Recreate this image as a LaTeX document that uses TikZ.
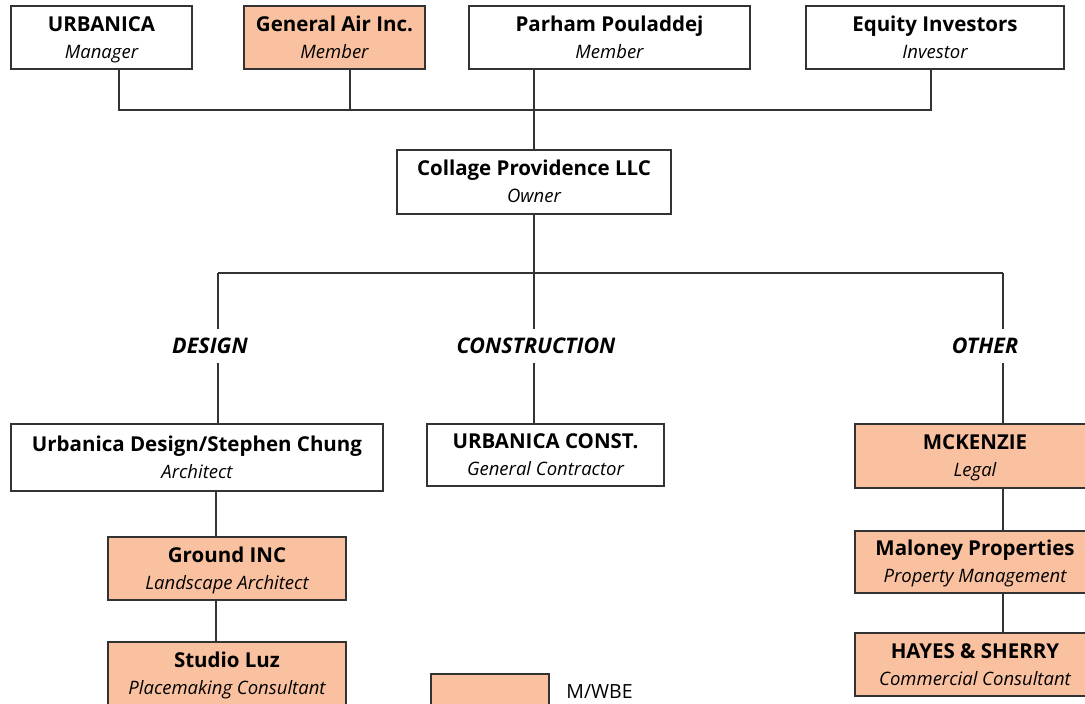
\documentclass[tikz,border=0pt]{standalone}
\usepackage{fontspec}
\setmainfont{Open Sans}
\usepackage{xcolor}

\definecolor{mwbe}{RGB}{250,193,160}
\definecolor{edge}{RGB}{51,51,51}

\newcommand{\party}[2]{{\fontsize{20.5}{27}\selectfont\bfseries\rule{0pt}{20pt}#1}\\{\fontsize{18.5}{27}\selectfont\itshape #2\rule[-6pt]{0pt}{6pt}}}

\begin{document}
\begin{tikzpicture}[x=1pt, y=-1pt, line width=1.4pt, draw=edge,
		org/.style={draw=edge, fill=white, align=center, inner sep=0pt,
			font=\fontsize{19}{27}\selectfont},
		mw/.style={org, fill=mwbe},
		branch/.style={font=\fontsize{21.5}{22}\selectfont\bfseries\itshape,
			minimum height=33pt, inner sep=0pt}]
		
		\useasboundingbox (0,0) rectangle (1085,704);
		
		% owners
		\node[org, minimum width=181pt, minimum height=63pt] (urbanica) at (101.5,37.5) {\party{URBANICA}{Manager}};
		\node[mw, minimum width=181pt, minimum height=63pt] (genair) at (334.5,37.5) {\party{General Air Inc.}{Member}};
		\node[org, minimum width=281pt, minimum height=63pt] (parham) at (609.5,37.5) {\party{Parham Pouladdej}{Member}};
		\node[org, minimum width=258pt, minimum height=63pt] (equity) at (935,37.5) {\party{Equity Investors}{Investor}};
		
		% owner entity
		\node[org, minimum width=274pt, minimum height=64pt] (collage) at (534,182) {\party{Collage Providence LLC}{Owner}};
		
		% branch labels
		\node[branch] (designlbl) at (210,346) {DESIGN};
		\node[branch] (conslbl) at (536,346) {CONSTRUCTION};
		\node[branch] (otherlbl) at (985,346) {OTHER};
		
		% design team
		\node[org, minimum width=372pt, minimum height=67pt] (urbdesign) at (197,457.5) {\party{Urbanica Design/Stephen Chung}{Architect}};
		\node[mw, minimum width=238pt, minimum height=63pt] (ground) at (227,568.5) {\party{Ground INC}{Landscape Architect}};
		\node[mw, minimum width=238pt, minimum height=63pt] (studioluz) at (227,673.5) {\party{Studio Luz}{Placemaking Consultant}};
		
		% construction team
		\node[org, minimum width=237pt, minimum height=62pt] (urbconst) at (545.5,455) {\party{URBANICA CONST.}{General Contractor}};
		
		% other team
		\node[mw, minimum width=240pt, minimum height=64pt] (mckenzie) at (975,456) {\party{MCKENZIE}{Legal}};
		\node[mw, minimum width=240pt, minimum height=62pt] (maloney) at (975,562) {\party{Maloney Properties}{Property Management}};
		\node[mw, minimum width=240pt, minimum height=63pt] (hayes) at (975,664.5) {\party{HAYES \& SHERRY}{Commercial Consultant}};
		
		% legend
		\node[mw, minimum width=118pt, minimum height=36pt] (key) at (490,692) {};
		\node[anchor=west, inner sep=0pt, font=\fontsize{19.5}{22}\selectfont] (keylbl) at ([xshift=16pt]key.east) {M/WBE};
		
		% owners to collage
		\coordinate (topbus) at (535,110);
		\coordinate (gadrop) at ([xshift=15.5pt]genair.south);
		\draw ([xshift=17.5pt]urbanica.south) |- (topbus);
		\draw ([xshift=-4pt]equity.south) |- (topbus);
		\draw (gadrop) -- (gadrop |- topbus);
		\draw (parham.south -| collage.north) -- (collage.north);
		
		% collage to branches
		\coordinate (dsn) at (218,273);
		\coordinate (cst) at (534,273);
		\coordinate (oth) at (1003,273);
		\draw (collage.south) -- (collage.south |- cst);
		\draw (dsn) -- (oth);
		\draw (dsn) -- (dsn |- designlbl.north);
		\draw (dsn |- designlbl.south) -- (dsn |- urbdesign.north);
		\draw (cst) -- (cst |- conslbl.north);
		\draw (cst |- conslbl.south) -- (cst |- urbconst.north);
		\draw (oth) -- (oth |- otherlbl.north);
		\draw (oth |- otherlbl.south) -- (oth |- mckenzie.north);
		
		% chains
		\draw ([xshift=19pt]urbdesign.south) -- ([xshift=-11pt]ground.north);
		\draw ([xshift=-11pt]ground.south) -- ([xshift=-11pt]studioluz.north);
		\draw (mckenzie.south -| oth) -- (maloney.north -| oth);
		\draw (maloney.south -| oth) -- (hayes.north -| oth);
		
	\end{tikzpicture}
\end{document}
